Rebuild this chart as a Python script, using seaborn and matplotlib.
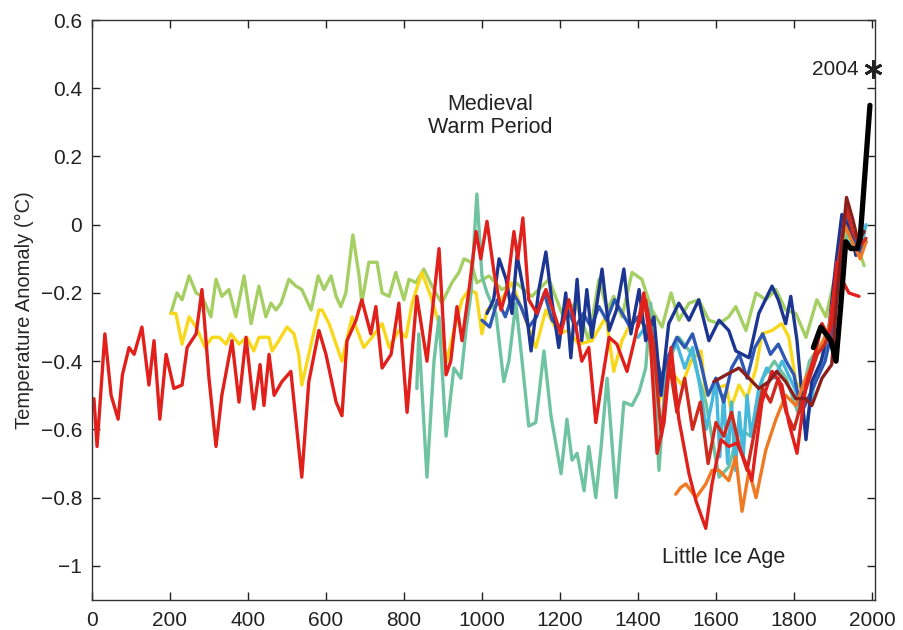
import matplotlib
matplotlib.use("Agg")
import matplotlib.pyplot as plt
import pandas as pd
import seaborn as sns

# (year, anomaly) pairs
MOBERG = [(5, -0.51), (13, -0.65), (33, -0.32), (49, -0.50), (67, -0.57), (78, -0.44), (95, -0.36),
          (108, -0.38), (128, -0.30), (146, -0.47), (159, -0.34), (174, -0.57), (190, -0.38), (210, -0.48),
          (231, -0.47), (244, -0.36), (267, -0.32), (282, -0.19), (300, -0.45), (318, -0.65), (333, -0.50),
          (359, -0.34), (377, -0.52), (395, -0.33), (415, -0.54), (431, -0.41), (441, -0.53), (454, -0.38),
          (467, -0.50), (487, -0.46), (510, -0.43), (538, -0.74), (556, -0.46), (582, -0.31), (600, -0.38),
          (626, -0.52), (641, -0.56), (654, -0.34), (677, -0.28), (692, -0.22), (715, -0.32), (728, -0.24),
          (744, -0.42), (767, -0.38), (787, -0.23), (808, -0.55), (833, -0.21), (859, -0.40), (890, -0.07),
          (908, -0.44), (920, -0.40), (936, -0.24), (949, -0.34), (967, -0.19), (985, -0.02), (997, -0.10),
          (1013, 0.01), (1031, -0.14), (1049, -0.25), (1064, -0.19), (1082, -0.02), (1092, -0.10),
          (1105, 0.02), (1120, -0.22), (1141, -0.26), (1164, -0.19), (1185, -0.26), (1202, -0.32),
          (1223, -0.22), (1241, -0.30), (1256, -0.40), (1274, -0.36), (1292, -0.58), (1305, -0.48),
          (1326, -0.33), (1346, -0.35), (1372, -0.43), (1395, -0.32), (1415, -0.20), (1433, -0.36),
          (1449, -0.67), (1467, -0.58), (1485, -0.36), (1505, -0.57), (1531, -0.73), (1549, -0.81),
          (1574, -0.89), (1590, -0.76), (1613, -0.63), (1633, -0.65), (1654, -0.64), (1677, -0.70),
          (1692, -0.75), (1718, -0.52), (1744, -0.43), (1769, -0.47), (1787, -0.58), (1808, -0.67),
          (1831, -0.47), (1856, -0.37), (1872, -0.29), (1890, -0.33), (1903, -0.19), (1910, -0.11),
          (1923, -0.16), (1941, -0.20), (1967, -0.21)]

LIGHT_GREEN = [(202, -0.26), (218, -0.20), (231, -0.22), (249, -0.15), (267, -0.20), (282, -0.21),
               (305, -0.27), (318, -0.16), (333, -0.21), (351, -0.19), (369, -0.27), (390, -0.15),
               (408, -0.29), (428, -0.18), (446, -0.27), (459, -0.23), (472, -0.25), (485, -0.23),
               (505, -0.16), (523, -0.18), (538, -0.19), (562, -0.25), (580, -0.15), (595, -0.19),
               (613, -0.15), (626, -0.21), (638, -0.24), (651, -0.20), (669, -0.03), (685, -0.15),
               (692, -0.23), (710, -0.11), (731, -0.11), (744, -0.20), (762, -0.21), (779, -0.14),
               (800, -0.22), (813, -0.16), (831, -0.17), (851, -0.13), (872, -0.18), (897, -0.23),
               (923, -0.17), (941, -0.14), (954, -0.10), (972, -0.11), (987, -0.17), (1018, -0.15),
               (1051, -0.19), (1087, -0.17), (1128, -0.21), (1172, -0.16), (1205, -0.26), (1241, -0.23),
               (1274, -0.34), (1300, -0.16), (1321, -0.25), (1338, -0.21), (1359, -0.27), (1385, -0.14),
               (1410, -0.16), (1436, -0.25), (1462, -0.30), (1485, -0.20), (1505, -0.28), (1531, -0.23),
               (1556, -0.22), (1582, -0.28), (1608, -0.29), (1633, -0.27), (1651, -0.24), (1677, -0.31),
               (1703, -0.20), (1728, -0.22), (1754, -0.19), (1779, -0.25), (1805, -0.26), (1831, -0.33),
               (1859, -0.22), (1882, -0.27), (1900, -0.18), (1920, -0.08), (1940, 0.00), (1960, -0.05),
               (1980, -0.12)]

YELLOW = [(202, -0.26), (215, -0.26), (231, -0.35), (249, -0.27), (267, -0.30), (290, -0.36), (308, -0.33),
          (326, -0.33), (344, -0.35), (356, -0.32), (377, -0.35), (397, -0.33), (415, -0.37), (428, -0.33),
          (454, -0.33), (462, -0.37), (479, -0.34), (500, -0.30), (518, -0.32), (530, -0.38), (538, -0.47),
          (556, -0.38), (582, -0.25), (590, -0.25), (608, -0.29), (641, -0.40), (667, -0.27), (697, -0.36),
          (718, -0.33), (744, -0.29), (762, -0.36), (787, -0.31), (805, -0.33), (821, -0.23), (846, -0.14),
          (869, -0.21), (890, -0.29), (910, -0.40), (928, -0.31), (949, -0.22), (967, -0.19), (985, -0.20),
          (1000, -0.32), (1013, -0.25), (1044, -0.23), (1077, -0.17), (1103, -0.25), (1138, -0.36),
          (1164, -0.25), (1197, -0.32), (1220, -0.31), (1249, -0.35), (1282, -0.34), (1318, -0.27),
          (1338, -0.43), (1359, -0.34), (1385, -0.28), (1410, -0.28), (1428, -0.34), (1454, -0.52),
          (1479, -0.42), (1513, -0.47), (1536, -0.40), (1562, -0.37), (1574, -0.50), (1600, -0.48),
          (1626, -0.47), (1638, -0.54), (1659, -0.47), (1679, -0.51), (1703, -0.42), (1718, -0.32),
          (1744, -0.31), (1769, -0.29), (1787, -0.33), (1805, -0.46), (1826, -0.49), (1846, -0.41),
          (1870, -0.35), (1900, -0.30), (1920, -0.15), (1940, -0.03), (1960, -0.08), (1980, -0.06)]

TEAL = [(833, -0.48), (838, -0.32), (859, -0.74), (877, -0.40), (890, -0.27), (908, -0.62), (928, -0.42),
        (946, -0.45), (959, -0.31), (972, -0.20), (987, 0.09), (1000, -0.15), (1013, -0.20), (1036, -0.26),
        (1056, -0.46), (1069, -0.40), (1087, -0.23), (1103, -0.40), (1120, -0.59), (1138, -0.58),
        (1159, -0.37), (1177, -0.56), (1203, -0.73), (1218, -0.57), (1231, -0.69), (1244, -0.67),
        (1262, -0.78), (1274, -0.65), (1292, -0.80), (1305, -0.66), (1321, -0.45), (1344, -0.80),
        (1364, -0.52), (1385, -0.53), (1403, -0.49), (1420, -0.42), (1433, -0.23), (1454, -0.72),
        (1472, -0.42), (1505, -0.33), (1539, -0.38), (1574, -0.52), (1608, -0.74), (1633, -0.71),
        (1660, -0.60), (1690, -0.62), (1720, -0.45), (1750, -0.40), (1780, -0.45), (1810, -0.55),
        (1840, -0.40), (1870, -0.35), (1900, -0.30), (1920, -0.12), (1940, -0.02), (1960, -0.05),
        (1985, -0.05)]

DARK_BLUE = [(1013, -0.26), (1030, -0.22), (1044, -0.10), (1062, -0.16), (1077, -0.26), (1090, -0.09),
             (1108, -0.20), (1126, -0.37), (1146, -0.19), (1164, -0.08), (1179, -0.22), (1197, -0.36),
             (1215, -0.20), (1228, -0.39), (1244, -0.16), (1256, -0.34), (1269, -0.19), (1282, -0.33),
             (1308, -0.13), (1326, -0.31), (1345, -0.25), (1364, -0.13), (1382, -0.32), (1403, -0.19),
             (1420, -0.34), (1441, -0.27), (1459, -0.50), (1479, -0.29), (1505, -0.23), (1531, -0.28),
             (1556, -0.22), (1582, -0.34), (1608, -0.28), (1633, -0.31), (1651, -0.37), (1685, -0.39),
             (1710, -0.26), (1744, -0.18), (1760, -0.22), (1779, -0.29), (1792, -0.21), (1808, -0.34),
             (1831, -0.63), (1846, -0.46), (1870, -0.40), (1890, -0.30), (1908, -0.11), (1923, 0.03),
             (1946, -0.02), (1959, -0.09), (1975, -0.05)]

MID_BLUE = [(1000, -0.28), (1020, -0.30), (1040, -0.22), (1060, -0.27), (1080, -0.20), (1100, -0.24),
            (1120, -0.30), (1140, -0.27), (1160, -0.20), (1180, -0.28), (1200, -0.30), (1220, -0.25),
            (1240, -0.30), (1260, -0.26), (1280, -0.30), (1300, -0.24), (1320, -0.28), (1340, -0.22),
            (1360, -0.26), (1380, -0.30), (1400, -0.27), (1420, -0.30), (1440, -0.35), (1460, -0.45),
            (1480, -0.38), (1500, -0.33), (1520, -0.36), (1540, -0.32), (1560, -0.40), (1580, -0.50),
            (1600, -0.45), (1620, -0.52), (1640, -0.42), (1660, -0.38), (1680, -0.45), (1700, -0.36),
            (1720, -0.32), (1740, -0.38), (1760, -0.35), (1780, -0.40), (1800, -0.44), (1820, -0.55),
            (1840, -0.50), (1860, -0.45), (1880, -0.40), (1900, -0.30), (1920, -0.05), (1935, 0.02),
            (1950, -0.03), (1970, -0.08), (1985, -0.05)]

CYAN = [(1400, -0.33), (1420, -0.30), (1440, -0.38), (1460, -0.50), (1480, -0.38), (1500, -0.35),
        (1520, -0.42), (1540, -0.36), (1560, -0.48), (1575, -0.60), (1590, -0.52), (1600, -0.45),
        (1610, -0.68), (1620, -0.50), (1630, -0.70), (1640, -0.52), (1650, -0.72), (1660, -0.55),
        (1670, -0.68), (1680, -0.50), (1690, -0.62), (1710, -0.48), (1730, -0.42), (1750, -0.45),
        (1770, -0.40), (1790, -0.45), (1810, -0.50), (1830, -0.60), (1850, -0.48), (1870, -0.40),
        (1890, -0.35), (1910, -0.22), (1930, -0.05), (1950, -0.05), (1970, -0.08), (1985, 0.00)]

CRIMSON = [(1400, -0.30), (1420, -0.22), (1440, -0.35), (1460, -0.62), (1480, -0.40), (1500, -0.55),
           (1520, -0.45), (1540, -0.60), (1560, -0.52), (1580, -0.70), (1600, -0.58), (1620, -0.62),
           (1640, -0.55), (1660, -0.65), (1680, -0.72), (1700, -0.60), (1720, -0.48), (1740, -0.52),
           (1760, -0.45), (1780, -0.55), (1800, -0.60), (1820, -0.52), (1840, -0.45), (1860, -0.38),
           (1880, -0.35), (1900, -0.28), (1915, -0.10), (1935, 0.05), (1950, -0.02), (1970, -0.06),
           (1985, -0.04)]

ORANGE = [(1497, -0.79), (1510, -0.77), (1523, -0.76), (1549, -0.80), (1574, -0.76), (1590, -0.72),
          (1608, -0.72), (1633, -0.75), (1651, -0.68), (1667, -0.84), (1685, -0.72), (1703, -0.80),
          (1728, -0.66), (1754, -0.57), (1779, -0.50), (1805, -0.53), (1830, -0.45), (1864, -0.37),
          (1890, -0.30), (1910, -0.15), (1930, 0.00), (1950, -0.05), (1970, -0.10), (1985, -0.05)]

MAROON = [(1595, -0.46), (1626, -0.44), (1659, -0.42), (1685, -0.45), (1710, -0.48), (1736, -0.46),
          (1756, -0.43), (1779, -0.46), (1805, -0.51), (1831, -0.51), (1846, -0.53), (1872, -0.45),
          (1897, -0.41), (1915, -0.15), (1935, 0.08), (1950, 0.02), (1965, -0.05), (1980, -0.02)]

INSTRUMENTAL = [(1850, -0.36), (1869, -0.30), (1882, -0.32), (1895, -0.34), (1908, -0.40), (1920, -0.24),
                (1933, -0.05), (1946, -0.07), (1962, -0.07), (1970, -0.04), (1995, 0.35)]

YEAR_2004 = 2004
ANOMALY_2004 = 0.455

# drawing order: first listed ends up underneath
SERIES = [
    ("light green", LIGHT_GREEN, "#a5cf63"),
    ("yellow", YELLOW, "#f9d81b"),
    ("teal", TEAL, "#6fc3a2"),
    ("cyan", CYAN, "#46b8dc"),
    ("mid blue", MID_BLUE, "#2f58b4"),
    ("dark blue", DARK_BLUE, "#1b3591"),
    ("orange", ORANGE, "#f07a24"),
    ("crimson", CRIMSON, "#cf2a1e"),
    ("red", MOBERG, "#e1201c"),
    ("maroon", MAROON, "#8c1f1c"),
]

sns.set_style("ticks")
plt.rcParams["font.family"] = ["Liberation Sans", "DejaVu Sans"]

fig = plt.figure(figsize=(9.04, 6.30), dpi=100)
ax = fig.add_axes([92 / 904, 30 / 630, 783 / 904, 580 / 630])

for name, pts, color in SERIES:
    df = pd.DataFrame(pts, columns=["year", "anomaly"])
    sns.lineplot(data=df, x="year", y="anomaly", color=color, lw=2.4, ax=ax,
                 estimator=None, sort=False, solid_joinstyle="round", solid_capstyle="round")

inst = pd.DataFrame(INSTRUMENTAL, columns=["year", "anomaly"])
sns.lineplot(data=inst, x="year", y="anomaly", color="black", lw=3.8, ax=ax,
             estimator=None, sort=False, solid_joinstyle="round")

ax.plot([YEAR_2004], [ANOMALY_2004], marker=(6, 2, 0), ms=13, mew=2,
        color="#222222", clip_on=False, zorder=5)
ax.text(YEAR_2004 - 38, ANOMALY_2004, "2004", ha="right", va="center",
        fontsize=15, color="#222222")

ax.text(1021, 0.318, "Medieval\nWarm Period", ha="center", va="center",
        fontsize=15.5, color="#222222", linespacing=1.15)
ax.text(1620, -0.975, "Little Ice Age", ha="center", va="center",
        fontsize=15.5, color="#222222")

ax.set_xlim(0, 2008)
ax.set_ylim(-1.1, 0.6)
ax.set_xticks(range(0, 2001, 200))
ax.set_yticks([-1, -0.8, -0.6, -0.4, -0.2, 0, 0.2, 0.4, 0.6])
ax.set_yticklabels(["\u22121", "\u22120.8", "\u22120.6", "\u22120.4", "\u22120.2", "0",
                    "0.2", "0.4", "0.6"])
ax.set_xlabel("")
ax.set_ylabel("Temperature Anomaly (\u00b0C)", fontsize=14.5)
ax.yaxis.set_label_coords(-0.074, 0.5)

for side in ["top", "right", "left", "bottom"]:
    ax.spines[side].set_visible(True)
    ax.spines[side].set_linewidth(1.0)
    ax.spines[side].set_color("#333333")
ax.tick_params(direction="in", length=6, width=1, top=True, right=True,
               labelsize=15, colors="#222222", pad=7)
ax.tick_params(axis="x", pad=8)

fig.savefig("out.png", dpi=100)
plt.close(fig)
